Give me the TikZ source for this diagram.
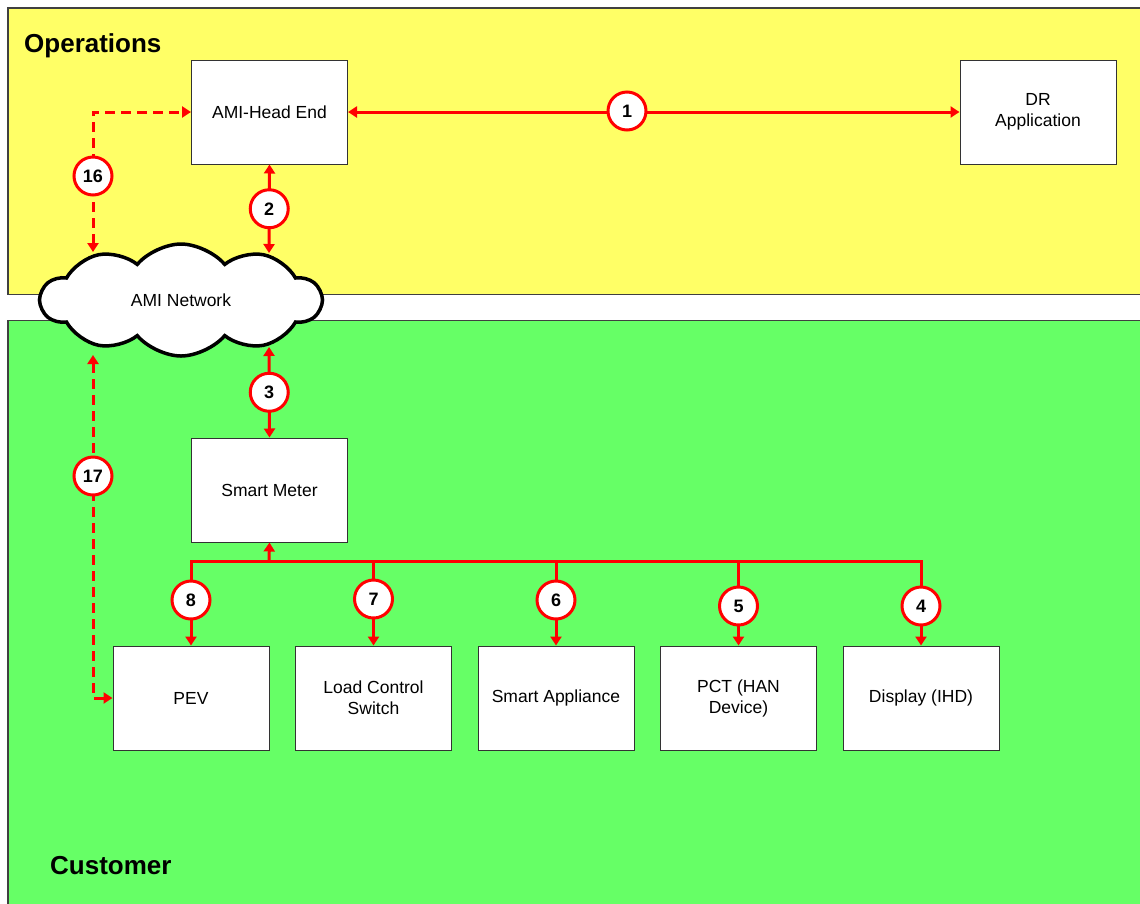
\documentclass[tikz,border=0pt]{standalone}
\usepackage{fontspec}
\setmainfont{Liberation Sans}
\usetikzlibrary{arrows.meta,shapes.symbols,calc}
\definecolor{opyellow}{HTML}{FFFF66}
\definecolor{cugreen}{HTML}{66FF66}
\definecolor{linkred}{HTML}{FF0000}
\tikzset{
  box/.style={draw=black!80,line width=1pt,fill=white,minimum width=156pt,minimum height=104pt,
    inner sep=0pt,align=center,font=\fontsize{17.5}{21}\selectfont},
  num/.style={circle,draw=linkred,line width=3pt,fill=white,minimum size=38pt,inner sep=0pt,
    font=\fontsize{18}{18}\selectfont\bfseries},
  tipr/.tip={Triangle[length=9pt,width=11pt]},
  link/.style={draw=linkred,line width=3pt},
  both/.style={link,{tipr}-{tipr}},
  fwd/.style={link,-{tipr}},
  dlink/.style={link,dash pattern=on 10pt off 6pt,{tipr}-{tipr}},
  zone/.style={draw=black!75,line width=1.5pt},
  title/.style={anchor=west,inner sep=0pt,font=\fontsize{26}{26}\selectfont\bfseries}
}
\begin{document}
\begin{tikzpicture}[x=1pt,y=-1pt]
\useasboundingbox (0,0) rectangle (1140,903);
\fill[white] (0,0) rectangle (1140,903);
\begin{scope}
\clip (0,0) rectangle (1140,903);
\draw[zone,fill=opyellow] (8,8) rectangle (1160,294.5);
\draw[zone,fill=cugreen] (8,320.5) rectangle (1160,930);
\end{scope}
\node[title] (ops) at (24,46) {Operations};
\node[title] (cus) at (50,866) {Customer};

% boxes
\node[box] (he) at (269.5,112) {AMI-Head End};
\node[box] (dr) at (1038,112) {DR\\Application};
\node[box] (sm) at (269.5,490) {Smart Meter};
\node[box] (pev) at (191,698) {PEV};
\node[box] (lcs) at (373.5,698) {Load Control\\Switch};
\node[box] (sa) at (556,698) {Smart Appliance};
\node[box] (pct) at (738.5,698) {PCT (HAN\\Device)};
\node[box] (ihd) at (921,698) {Display (IHD)};

% cloud
\node[cloud,draw=black,line width=3.5pt,fill=white,cloud puffs=10,cloud puff arc=100,aspect=2.5,
  minimum width=280pt,minimum height=112pt,inner sep=0pt,font=\fontsize{17.5}{21}\selectfont] (net) at (181,300) {AMI Network};

\coordinate (c2) at (269,253);
\coordinate (c16) at (93,252);
\coordinate (c3) at (269,347);
\coordinate (c17) at (93,355);
\coordinate (bus) at (269,561);

% connectors
\draw[both] (he.east) -- (dr.west);
\node[num] (n1) at (627,111) {1};
\draw[both] (he.south) -- (c2) node[midway,num] (n2) {2};
\draw[both] (c3) -- (sm.north) node[midway,num] (n3) {3};
\draw[dlink] (c16) |- (he.west);
\node[num] (n16) at (93,176) {16};
\draw[dlink] (c17) |- (pev.west);
\node[num] (n17) at (93,476) {17};

\draw[fwd] (bus) -- (sm.south);
\draw[fwd] (bus) -| (pev.north);
\draw[fwd] (bus) -| (lcs.north);
\draw[fwd] (bus) -| (sa.north);
\draw[fwd] (bus) -| (pct.north);
\draw[fwd] (bus) -| (ihd.north);
\node[num] (n8) at (pev.north |- 0,600) {8};
\node[num] (n7) at (lcs.north |- 0,599) {7};
\node[num] (n6) at (sa.north |- 0,600) {6};
\node[num] (n5) at (pct.north |- 0,606) {5};
\node[num] (n4) at (ihd.north |- 0,606) {4};
\end{tikzpicture}
\end{document}
